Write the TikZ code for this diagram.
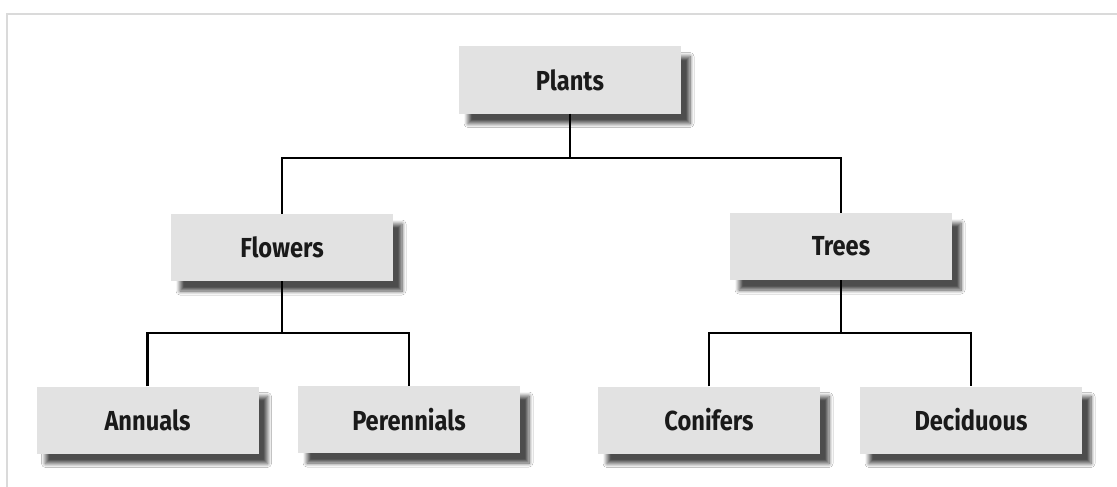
\documentclass[tikz,border=0pt]{standalone}
\usepackage{fontspec}
\setmainfont{Fira Sans}[FakeStretch=0.86]
\usetikzlibrary{shadows.blur}

\definecolor{boxfill}{HTML}{E2E2E2}
\definecolor{framegray}{HTML}{DADADA}
\definecolor{labelink}{HTML}{1A1A1A}

\tikzset{
  catbox/.style={
    rectangle, fill=boxfill, draw=none,
    minimum width=222pt, minimum height=67pt, inner sep=0pt,
    font=\fontsize{27.5}{30}\selectfont\bfseries, text=labelink,
    blur shadow={shadow xshift=9pt, shadow yshift=-10pt,
                 shadow blur radius=4pt, shadow blur steps=8,
                 shadow opacity=70}
  },
  link/.style={draw=black, line width=2.7pt},
  frameline/.style={draw=framegray, line width=2pt}
}

\begin{document}
\begin{tikzpicture}[x=1pt, y=-1pt]
  \useasboundingbox[fill=white] (0,0) rectangle (1117,487);

  % outer frame (top and left edges)
  \draw[frameline] (7,487) -- (7,14) -- (1117,14);

  % category boxes
  \node[catbox] (plants)     at (570,80)    {Plants};
  \node[catbox] (flowers)    at (282,247.5) {Flowers};
  \node[catbox] (trees)      at (841,246.5) {Trees};
  \node[catbox] (annuals)    at (147.5,420) {Annuals};
  \node[catbox] (perennials) at (409,419.5) {Perennials};
  \node[catbox] (conifers)   at (709,420)   {Conifers};
  \node[catbox] (deciduous)  at (971,420)   {Deciduous};

  % bus levels of the tree
  \coordinate (bustop) at (570,158);
  \coordinate (buslow) at (570,333);

  % Plants -> Flowers, Trees
  \draw[link] (plants.south) -- (plants.south |- bustop);
  \draw[link] (flowers.north) -- (flowers.north |- bustop)
              -- (trees.north |- bustop) -- (trees.north);

  % Flowers -> Annuals, Perennials
  \draw[link] (flowers.south) -- (flowers.south |- buslow);
  \draw[link] (annuals.north) -- (annuals.north |- buslow)
              -- (perennials.north |- buslow) -- (perennials.north);

  % Trees -> Conifers, Deciduous
  \draw[link] (trees.south) -- (trees.south |- buslow);
  \draw[link] (conifers.north) -- (conifers.north |- buslow)
              -- (deciduous.north |- buslow) -- (deciduous.north);
\end{tikzpicture}
\end{document}
